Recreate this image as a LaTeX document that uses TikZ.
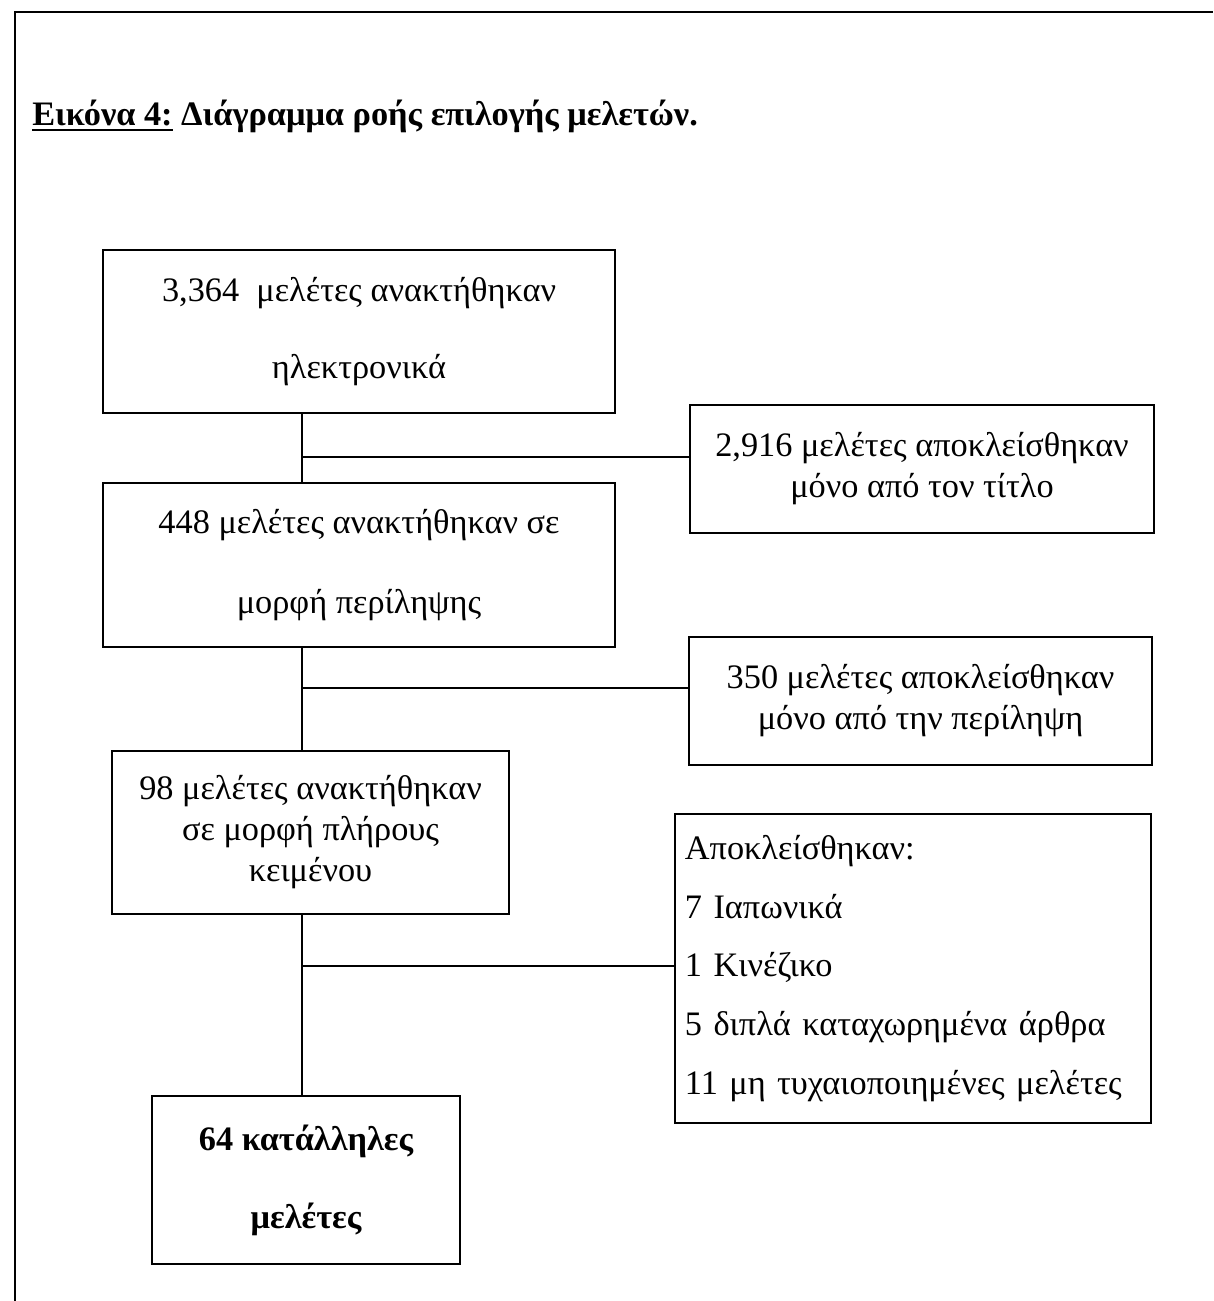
\documentclass[tikz,border=0pt]{standalone}
\usepackage{fontspec}
\setmainfont{Liberation Serif}
\newcommand\capul[1]{\setbox0\hbox{#1}\rlap{\rule[-4pt]{\wd0}{1.4pt}}\box0\relax}

\begin{document}
\begin{tikzpicture}[x=0.025cm,y=-0.025cm,
  txt/.style={font=\fontsize{24.4}{29.2}\selectfont},
  boldtxt/.style={font=\fontsize{24.4}{29.2}\selectfont\bfseries},
  box/.style={draw,line width=2pt,align=center,inner sep=0pt},
  trunkline/.style={line width=1.5pt},
  branch/.style={line width=2pt}]
\useasboundingbox (0,0) rectangle (1213,1301);
\draw[line width=1.4pt] (15,1301) -- (15,12) -- (1213,12);
\node[boldtxt,anchor=base west,inner sep=0pt] (caption) at (32,125)
  {\capul{Εικόνα 4:} Διάγραμμα ροής επιλογής μελετών.};
% left column
\node[box,txt,minimum width=12.8cm,minimum height=4.075cm] (found) at (359,331.5)
  {3,364~~μελέτες ανακτήθηκαν\\[25.6pt]ηλεκτρονικά};
\node[box,txt,minimum width=12.8cm,minimum height=4.1cm] (abstr) at (359,565)
  {448 μελέτες ανακτήθηκαν σε\\[27.7pt]μορφή περίληψης};
\node[box,txt,minimum width=9.925cm,minimum height=4.075cm] (fulltext) at (310.5,832.5)
  {98 μελέτες ανακτήθηκαν\\σε μορφή πλήρους\\κειμένου};
\node[box,boldtxt,minimum width=7.7cm,minimum height=4.2cm] (eligible) at (306,1180)
  {64 κατάλληλες\\[26.3pt]μελέτες};
% right column
\node[box,txt,minimum width=11.6cm,minimum height=3.2cm] (extitle) at (922,469)
  {2,916 μελέτες αποκλείσθηκαν\\μόνο από τον τίτλο};
\node[box,txt,minimum width=11.575cm,minimum height=3.2cm] (exabstr) at (920.5,701)
  {350 μελέτες αποκλείσθηκαν\\μόνο από την περίληψη};
\node[box,txt,align=left,text width=11.4cm,inner xsep=0.25cm,minimum height=7.725cm] (exfull) at (913,968.5)
  {Αποκλείσθηκαν:\\[12.5pt]7 Ιαπωνικά\\[12.5pt]1 Κινέζικο\\[12.5pt]5 διπλά καταχωρημένα άρθρα\\[12.5pt]11 μη τυχαιοποιημένες μελέτες};
% connectors
\coordinate (trunk) at (302,0);
\draw[trunkline] (found.south -| trunk) -- (abstr.north -| trunk);
\draw[trunkline] (abstr.south -| trunk) -- (fulltext.north -| trunk);
\draw[trunkline] (fulltext.south -| trunk) -- (eligible.north -| trunk);
\coordinate (j1) at (302,457);
\coordinate (j2) at (302,688);
\coordinate (j3) at (302,966);
\draw[branch] (j1) -- (j1 -| extitle.west);
\draw[branch] (j2) -- (j2 -| exabstr.west);
\draw[branch] (j3) -- (j3 -| exfull.west);
\end{tikzpicture}
\end{document}
